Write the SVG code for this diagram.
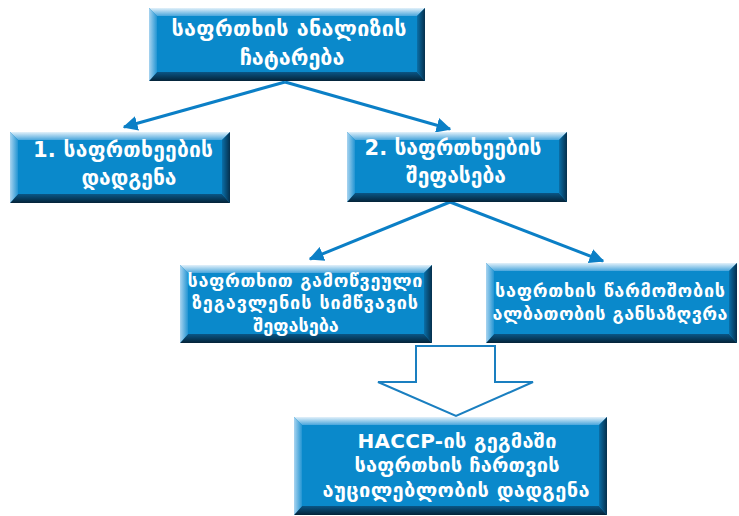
<svg xmlns="http://www.w3.org/2000/svg" width="739" height="516" viewBox="0 0 739 516">
<style>
.body{fill:#0a89cb}
.t{fill:#ffffff;font-family:"DejaVu Sans",sans-serif;font-weight:bold;text-anchor:middle}
.b1{font-size:21.5px}
.b2{font-size:21px}
.b4{font-size:18px}
.b6{font-size:20px}
.conn{stroke:#0b7fc6;stroke-width:3;fill:none}
</style>
<defs>
<linearGradient id="gTop" x1="0" y1="0" x2="0" y2="1"><stop offset="0" stop-color="#e3f1fa"/><stop offset="1" stop-color="#4aa6dc"/></linearGradient>
<linearGradient id="gBot" x1="0" y1="0" x2="0" y2="1"><stop offset="0" stop-color="#0a5686"/><stop offset="1" stop-color="#042338"/></linearGradient>
<linearGradient id="gLeft" x1="0" y1="0" x2="1" y2="0"><stop offset="0" stop-color="#a9d4f0"/><stop offset="1" stop-color="#2395d3"/></linearGradient>
<linearGradient id="gRight" x1="0" y1="0" x2="1" y2="0"><stop offset="0" stop-color="#0a6fa8"/><stop offset="1" stop-color="#052f4c"/></linearGradient>
<marker id="ah" viewBox="0 0 10 10" refX="9" refY="5" markerWidth="5" markerHeight="5.5" orient="auto" markerUnits="strokeWidth">
<path d="M0,0 L10,5 L0,10 Z" fill="#0b7fc6"/>
</marker>
</defs>

<g id="connectors">
<line class="conn" x1="285" y1="82" x2="124" y2="127" marker-end="url(#ah)"/>
<line class="conn" x1="285" y1="82" x2="450" y2="129" marker-end="url(#ah)"/>
<line class="conn" x1="450" y1="202" x2="310" y2="259" marker-end="url(#ah)"/>
<line class="conn" x1="450" y1="202" x2="603" y2="261" marker-end="url(#ah)"/>
<polygon points="416,346 495,346 495,382 533,382 456,416 378,382 416,382" fill="#ffffff" stroke="#1a7fc0" stroke-width="2"/>
</g>

<g id="n1">
<rect class="body" x="149" y="8" width="276" height="73"/>
<polygon points="149,8 425,8 417,16 157,16" fill="url(#gTop)"/>
<polygon points="149,81 425,81 417,72 157,72" fill="url(#gBot)"/>
<polygon points="149,8 157,16 157,72 149,81" fill="url(#gLeft)"/>
<polygon points="425,8 417,16 417,72 425,81" fill="url(#gRight)"/>
<text class="t b1" x="289" y="36" textLength="235">საფრთხის ანალიზის</text>
<text class="t b1" x="292" y="65">ჩატარება</text>
</g>

<g id="n2">
<rect class="body" x="10" y="132" width="220" height="71"/>
<polygon points="10,132 230,132 222,140 18,140" fill="url(#gTop)"/>
<polygon points="10,203 230,203 222,194 18,194" fill="url(#gBot)"/>
<polygon points="10,132 18,140 18,194 10,203" fill="url(#gLeft)"/>
<polygon points="230,132 222,140 222,194 230,203" fill="url(#gRight)"/>
<text class="t b2" x="123" y="157" textLength="180">1. საფრთხეების</text>
<text class="t b2" x="129" y="185">დადგენა</text>
</g>

<g id="n3">
<rect class="body" x="347" y="132" width="220" height="70"/>
<polygon points="347,132 567,132 559,140 355,140" fill="url(#gTop)"/>
<polygon points="347,202 567,202 559,193 355,193" fill="url(#gBot)"/>
<polygon points="347,132 355,140 355,193 347,202" fill="url(#gLeft)"/>
<polygon points="567,132 559,140 559,193 567,202" fill="url(#gRight)"/>
<text class="t b2" x="453" y="155" textLength="177">2. საფრთხეების</text>
<text class="t b2" x="456" y="183">შეფასება</text>
</g>

<g id="n4">
<rect class="body" x="180" y="265" width="252" height="78"/>
<polygon points="180,265 432,265 424,273 188,273" fill="url(#gTop)"/>
<polygon points="180,343 432,343 424,334 188,334" fill="url(#gBot)"/>
<polygon points="180,265 188,273 188,334 180,343" fill="url(#gLeft)"/>
<polygon points="432,265 424,273 424,334 432,343" fill="url(#gRight)"/>
<text class="t b4" x="305" y="287" textLength="235">საფრთხით გამოწვეული</text>
<text class="t b4" x="305" y="309" textLength="226">ზეგავლენის სიმწვავის</text>
<text class="t b4" x="296" y="332">შეფასება</text>
</g>

<g id="n5">
<rect class="body" x="486" y="263" width="251" height="80"/>
<polygon points="486,263 737,263 729,271 494,271" fill="url(#gTop)"/>
<polygon points="486,343 737,343 729,334 494,334" fill="url(#gBot)"/>
<polygon points="486,263 494,271 494,334 486,343" fill="url(#gLeft)"/>
<polygon points="737,263 729,271 729,334 737,343" fill="url(#gRight)"/>
<text class="t b4" x="610" y="297" textLength="230">საფრთხის წარმოშობის</text>
<text class="t b4" x="610" y="320" textLength="235">ალბათობის განსაზღვრა</text>
</g>

<g id="n6">
<rect class="body" x="294" y="417" width="313" height="98"/>
<polygon points="294,417 607,417 599,425 302,425" fill="url(#gTop)"/>
<polygon points="294,515 607,515 599,506 302,506" fill="url(#gBot)"/>
<polygon points="294,417 302,425 302,506 294,515" fill="url(#gLeft)"/>
<polygon points="607,417 599,425 599,506 607,515" fill="url(#gRight)"/>
<text class="t b6" x="457" y="448" textLength="199">HACCP-ის გეგმაში</text>
<text class="t b6" x="457" y="472" textLength="205">საფრთხის ჩართვის</text>
<text class="t b6" x="456" y="497" textLength="267">აუცილებლობის დადგენა</text>
</g>
</svg>
